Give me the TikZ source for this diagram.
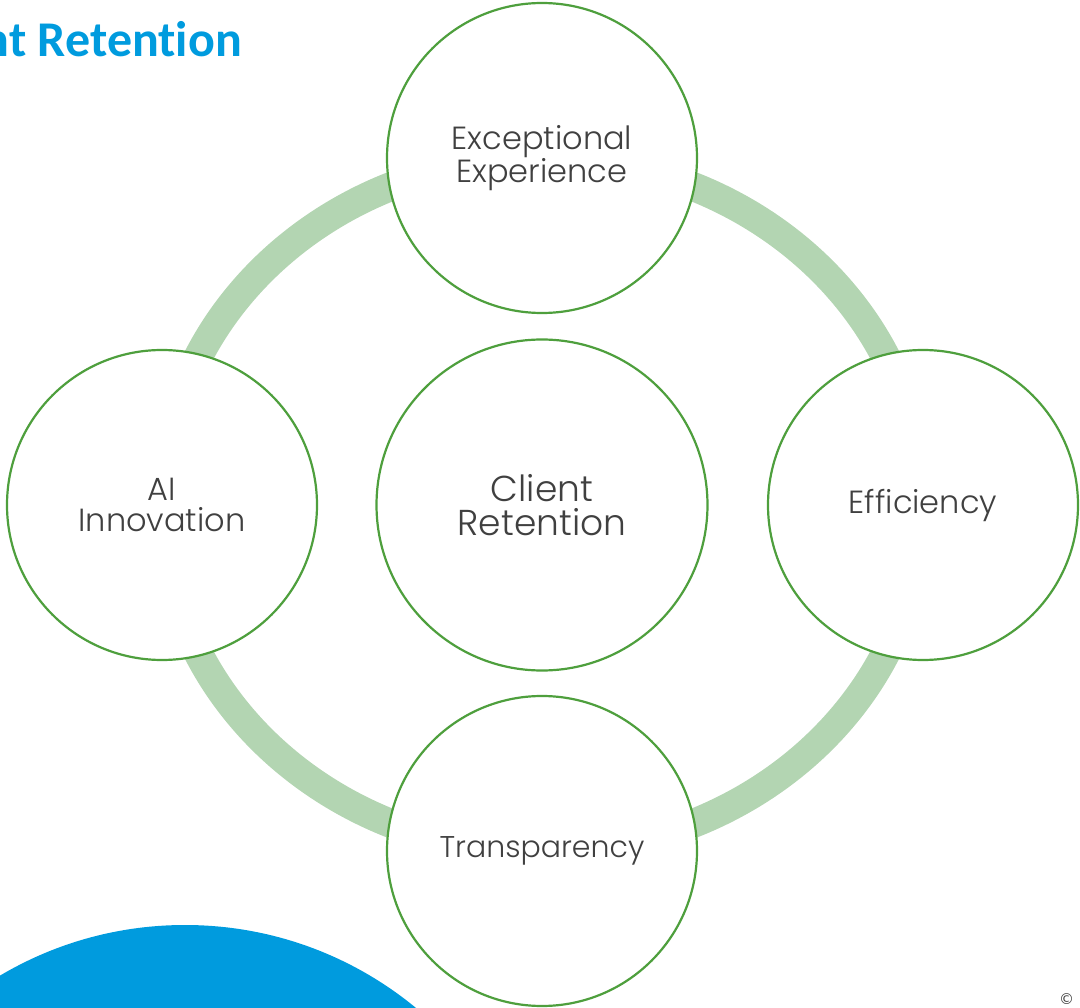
\documentclass[tikz,border=0pt]{standalone}
\usepackage{fontspec}
\setmainfont{Poppins}[UprightFont=* Light]
\newfontfamily\titlefont{Carlito}[Ligatures=NoCommon]
\newfontfamily\symfont{DejaVu Sans}
\definecolor{ringgreen}{HTML}{B3D5B2}
\definecolor{edgegreen}{HTML}{4E9F3D}
\definecolor{labelgray}{HTML}{404040}
\definecolor{brandblue}{HTML}{009BDE}
\tikzset{
  petal/.style={circle, draw=edgegreen, line width=2.2pt, fill=white,
    minimum size=310pt, inner sep=0pt, align=center, text=labelgray,
    font=\fontsize{32}{31}\selectfont},
  hub/.style={petal, minimum size=331pt, font=\fontsize{36}{34}\selectfont},
}
\begin{document}
\begin{tikzpicture}[x=1pt,y=-1pt]
\useasboundingbox (0,0) rectangle (1080,1008);
\clip (0,0) rectangle (1080,1008);
% heading, running off the left edge
\node[anchor=base east, inner sep=0pt, text=brandblue,
  font=\titlefont\bfseries\fontsize{50}{54}\selectfont] (title) at (242,57) {Client Retention};
% blue disc in the lower left corner
\fill[brandblue] (185,1288) circle (363);
% pale ring behind the circles
\draw[ringgreen, line width=29pt] (542,505) ellipse [x radius=380, y radius=347];
% circles
\node[hub] (core) at (542,505) {Client\\Retention};
\node[petal] (exp) at (542,158) {Exceptional\\Experience};
\node[petal] (ai) at (162,505) {AI\\Innovation};
\node[petal] (eff) at (923,505) {Efficiency};
\node[petal, font=\fontsize{30}{31}\selectfont] (tra) at (542,851) {Transparency};
% copyright mark
\node[anchor=base west, inner sep=0pt, text=labelgray, font=\symfont\fontsize{15}{16}\selectfont] (copy) at (1059,1004) {©};
\end{tikzpicture}
\end{document}
